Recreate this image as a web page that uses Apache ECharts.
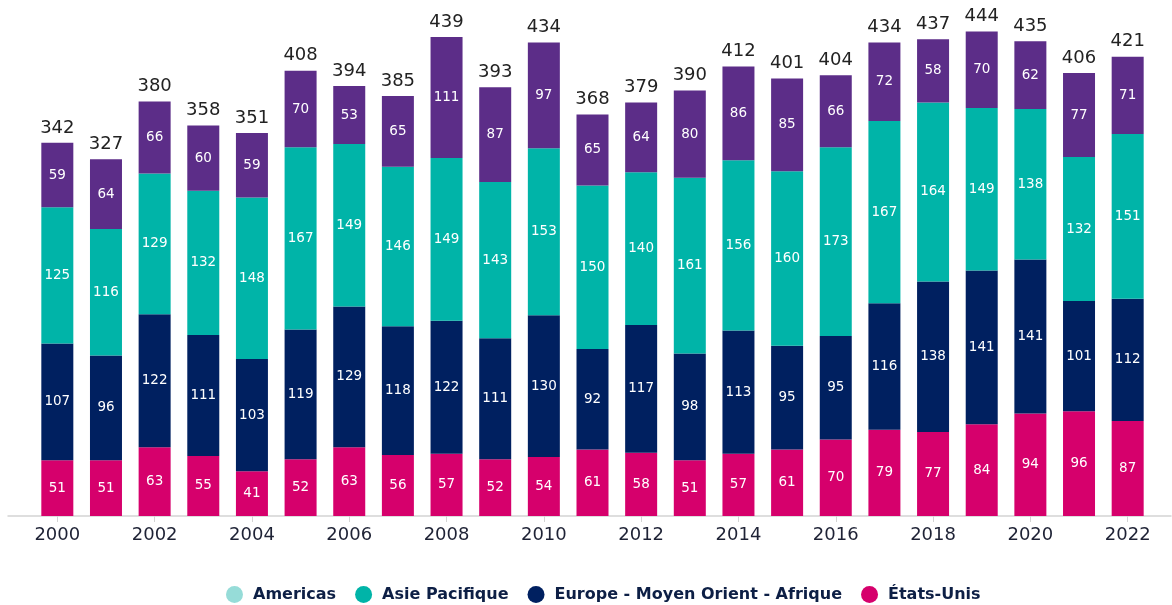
<!DOCTYPE html>
<html><head><meta charset="utf-8">
<script src="https://cdn.jsdelivr.net/npm/echarts@6/dist/echarts.min.js"></script>
<style>html,body{margin:0;padding:0;background:#fff}#c{width:1172px;height:605px}</style>
</head><body><div id="c"></div>
<script>
const years = ['2000','2001','2002','2003','2004','2005','2006','2007','2008','2009','2010','2011','2012','2013','2014','2015','2016','2017','2018','2019','2020','2021','2022'];
const etatsUnis = [51,51,63,55,41,52,63,56,57,52,54,61,58,51,57,61,70,79,77,84,94,96,87];
const europe = [107,96,122,111,103,119,129,118,122,111,130,92,117,98,113,95,95,116,138,141,141,101,112];
const asie = [125,116,129,132,148,167,149,146,149,143,153,150,140,161,156,160,173,167,164,149,138,132,151];
const americas = [59,64,66,60,59,70,53,65,111,87,97,65,64,80,86,85,66,72,58,70,62,77,71];
const totals = [342,327,380,358,351,408,394,385,439,393,434,368,379,390,412,401,404,434,437,444,435,406,421];

const FONT = 'DejaVu Sans';
const inLabel = {show:true, position:'inside', color:'#fff', fontSize:13.5, fontFamily:FONT};
const chart = echarts.init(document.getElementById('c'));
chart.setOption({
  animation:false,
  grid:[
    {left:33, right:20, top:25, bottom:89, containLabel:false},
    {left:8, right:1, top:25, bottom:89, containLabel:false}
  ],
  legend:{
    top:581, left:221, icon:'circle', itemWidth:17, itemHeight:17, itemGap:19,
    textStyle:{fontFamily:FONT, fontWeight:'bold', fontSize:16, color:'#0d1f45', padding:[0,0,0,5]},
    data:[
      {name:'Americas', itemStyle:{color:'#96dcd8'}},
      {name:'Asie Pacifique'},
      {name:'Europe - Moyen Orient - Afrique'},
      {name:'États-Unis'}
    ]
  },
  xAxis:[{
    type:'category', data:years, gridIndex:0,
    axisLine:{show:false},
    axisTick:{show:true, alignWithLabel:true, interval:1, length:6, lineStyle:{color:'#d4d4d4'}},
    axisLabel:{interval:1, color:'#1e2235', fontSize:18, fontFamily:FONT, margin:10}
  },{
    type:'value', gridIndex:1, min:0, max:1,
    axisLine:{show:true, onZero:false, lineStyle:{color:'#d4d4d4', width:1.5}},
    axisTick:{show:false}, axisLabel:{show:false}, splitLine:{show:false}
  }],
  yAxis:[
    {type:'value', gridIndex:0, min:0, max:450, show:false, splitLine:{show:false}},
    {type:'value', gridIndex:1, min:0, max:1, show:false, splitLine:{show:false}}
  ],
  series:[
    {name:'États-Unis', type:'bar', stack:'s', data:etatsUnis, barWidth:32, itemStyle:{color:'#d6006c'}, label:inLabel},
    {name:'Europe - Moyen Orient - Afrique', type:'bar', stack:'s', data:europe, itemStyle:{color:'#002060'}, label:inLabel},
    {name:'Asie Pacifique', type:'bar', stack:'s', data:asie, itemStyle:{color:'#00b4a8'}, label:inLabel},
    {name:'Americas', type:'bar', stack:'s', data:americas, itemStyle:{color:'#5c2d88'}, label:inLabel},
    {name:'Total', type:'bar', stack:'s', data:totals.map(()=>0), itemStyle:{color:'transparent'},
      label:{show:true, position:'top', distance:6, color:'#222', fontSize:18, fontFamily:FONT,
        formatter:p=>totals[p.dataIndex]}}
  ]
});
</script></body></html>
